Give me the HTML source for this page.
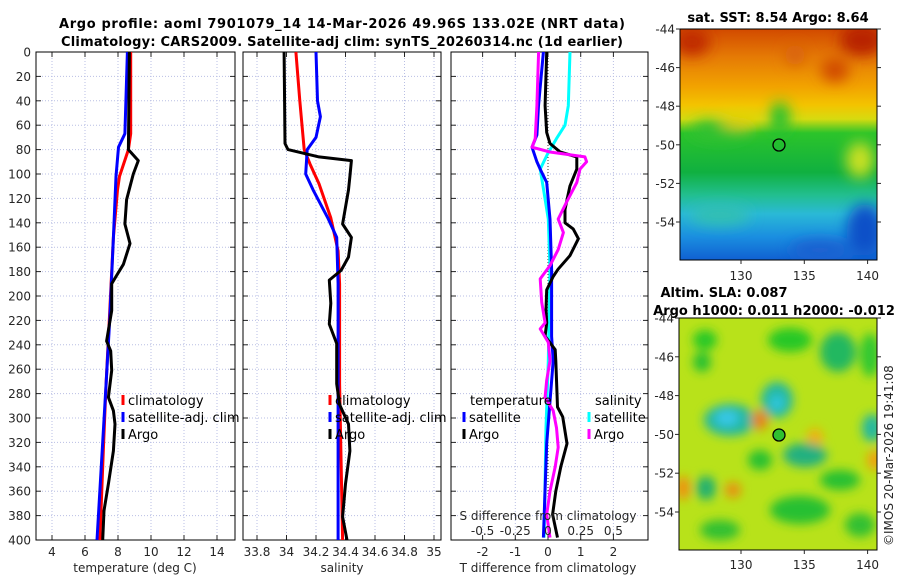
<!DOCTYPE html>
<html><head><meta charset="utf-8">
<style>
html,body{margin:0;padding:0;background:#fff;}
svg{display:block;font-family:"DejaVu Sans","Liberation Sans",sans-serif;}
.tk{font-size:12px;fill:#262626;}
.ttl{font-size:13px;font-weight:bold;fill:#000;}
.lg{font-size:13px;fill:#000;}
</style></head>
<body>
<svg id="fig" width="900" height="580" viewBox="0 0 900 580" xmlns="http://www.w3.org/2000/svg">
<defs>
<filter id="blur1" x="-50%" y="-50%" width="200%" height="200%"><feGaussianBlur stdDeviation="7"/></filter>
<filter id="blur2" x="-50%" y="-50%" width="200%" height="200%"><feGaussianBlur stdDeviation="5"/></filter>
<clipPath id="clipTop"><rect x="680" y="29" width="197" height="231"/></clipPath>
<clipPath id="clipBot"><rect x="679" y="318" width="198" height="232"/></clipPath>
<linearGradient id="sstGrad" x1="0" y1="29" x2="0" y2="260" gradientUnits="userSpaceOnUse">
<stop offset="0" stop-color="#d24a00"/>
<stop offset="0.12" stop-color="#e57a05"/>
<stop offset="0.25" stop-color="#f2a300"/>
<stop offset="0.33" stop-color="#f3c400"/>
<stop offset="0.39" stop-color="#d6db10"/>
<stop offset="0.45" stop-color="#2cc42a"/>
<stop offset="0.62" stop-color="#10b040"/>
<stop offset="0.72" stop-color="#22bf90"/>
<stop offset="0.8" stop-color="#2ab9d6"/>
<stop offset="0.9" stop-color="#1a8ee0"/>
<stop offset="1" stop-color="#1060d2"/>
</linearGradient>
</defs>

<text class="ttl" x="342" y="28" text-anchor="middle" textLength="566">Argo profile: aoml 7901079_14 14-Mar-2026 49.96S 133.02E (NRT data)</text>
<text class="ttl" x="342" y="46" text-anchor="middle" textLength="562">Climatology: CARS2009. Satellite-adj clim: synTS_20260314.nc (1d earlier)</text>

<g id="panels"></g>

<!-- SST map -->
<g>
<text class="ttl" x="778" y="22" text-anchor="middle">sat. SST: 8.54 Argo: 8.64</text>
<g clip-path="url(#clipTop)">
<rect x="680" y="29" width="197" height="231" fill="url(#sstGrad)"/>
<g filter="url(#blur1)">
<ellipse cx="692" cy="42" rx="18" ry="14" fill="#c02a00"/>
<ellipse cx="862" cy="40" rx="22" ry="16" fill="#b82000"/>
<ellipse cx="835" cy="70" rx="14" ry="12" fill="#d04a05"/>
<ellipse cx="795" cy="55" rx="10" ry="10" fill="#d86010"/>
<ellipse cx="780" cy="118" rx="10" ry="16" fill="#25c030"/>
<ellipse cx="720" cy="130" rx="30" ry="10" fill="#30c030"/>
<ellipse cx="860" cy="160" rx="14" ry="18" fill="#c8e020"/>
<ellipse cx="740" cy="120" rx="20" ry="8" fill="#e8d000"/>
<ellipse cx="720" cy="215" rx="30" ry="10" fill="#30c0b0"/>
<ellipse cx="865" cy="230" rx="18" ry="26" fill="#1050c8"/>
<ellipse cx="820" cy="250" rx="30" ry="10" fill="#1a60d0"/>
</g>
</g>
<rect x="680" y="29" width="197" height="231" fill="none" stroke="#000" stroke-width="1"/>
<circle cx="779" cy="145" r="6" fill="none" stroke="#000" stroke-width="1.3"/>
<g id="topMapAxes"></g>
</g>

<!-- SLA map -->
<g>
<text class="ttl" x="724" y="297" text-anchor="middle">Altim. SLA: 0.087</text>
<text class="ttl" x="774" y="315" text-anchor="middle">Argo h1000: 0.011 h2000: -0.012</text>
<g clip-path="url(#clipBot)">
<rect x="679" y="318" width="198" height="232" fill="#b8e21a"/>
<g filter="url(#blur2)">
<ellipse cx="705" cy="340" rx="12" ry="10" fill="#28c828"/>
<ellipse cx="790" cy="340" rx="22" ry="12" fill="#28c828"/>
<ellipse cx="838" cy="352" rx="18" ry="20" fill="#20b860"/>
<ellipse cx="870" cy="355" rx="10" ry="22" fill="#30c830"/>
<ellipse cx="702" cy="362" rx="9" ry="10" fill="#28c030"/>
<ellipse cx="777" cy="400" rx="16" ry="18" fill="#20b8a0"/>
<ellipse cx="777" cy="403" rx="7" ry="8" fill="#30c8e0"/>
<ellipse cx="730" cy="420" rx="26" ry="16" fill="#20b8a0"/>
<ellipse cx="727" cy="418" rx="12" ry="8" fill="#38c8e8"/>
<ellipse cx="760" cy="420" rx="8" ry="10" fill="#e88010"/>
<ellipse cx="815" cy="438" rx="8" ry="10" fill="#f0b010"/>
<ellipse cx="872" cy="428" rx="10" ry="14" fill="#20b8a0"/>
<ellipse cx="805" cy="455" rx="22" ry="12" fill="#20b080"/>
<ellipse cx="760" cy="460" rx="12" ry="10" fill="#28c030"/>
<ellipse cx="875" cy="460" rx="8" ry="10" fill="#f0a010"/>
<ellipse cx="683" cy="488" rx="7" ry="12" fill="#f09010"/>
<ellipse cx="733" cy="490" rx="8" ry="8" fill="#e89010"/>
<ellipse cx="706" cy="488" rx="10" ry="12" fill="#20b070"/>
<ellipse cx="840" cy="480" rx="20" ry="10" fill="#28c030"/>
<ellipse cx="800" cy="510" rx="30" ry="14" fill="#28c030"/>
<ellipse cx="720" cy="530" rx="20" ry="10" fill="#30c030"/>
<ellipse cx="860" cy="525" rx="15" ry="12" fill="#30c030"/>
</g>
</g>
<rect x="679" y="318" width="198" height="232" fill="none" stroke="#000" stroke-width="1"/>
<circle cx="779" cy="435" r="6" fill="#30c030" stroke="#000" stroke-width="1.3"/>
<g id="botMapAxes"></g>
</g>

<text class="tk" transform="translate(893,546) rotate(-90)" font-size="12.5">©IMOS 20-Mar-2026 19:41:08</text>
</svg>

<script>
// ---- data: depths (m) and values ----
const argoTDepth = [0,80,89,100,121,141,157,174,184,190,212,228,237,245,261,283,294,305,327,354,376,400];
const argoT      = [8.69,8.63,9.23,8.93,8.52,8.42,8.73,8.33,7.88,7.62,7.62,7.42,7.31,7.56,7.62,7.42,7.72,7.82,7.72,7.42,7.15,7.07];
const climTDepth = [0,67,80,102,113,152,218,272,327,400];
const climT      = [8.77,8.77,8.63,8.09,7.97,7.72,7.48,7.28,7.11,6.9];
const satTDepth  = [0,67,78,102,152,218,272,400];
const satT       = [8.57,8.42,8.03,7.88,7.72,7.5,7.28,6.73];

const argoSDepth = [0,75,80,86,89,102,113,141,152,168,179,187,206,223,239,272,289,305,327,354,381,400];
const argoS      = [33.984,33.99,34.01,34.22,34.44,34.43,34.42,34.38,34.44,34.42,34.37,34.29,34.30,34.29,34.34,34.34,34.36,34.42,34.43,34.40,34.38,34.41];
const climSDepth = [0,40,80,92,108,136,163,190,272,400];
const climS      = [34.064,34.09,34.12,34.16,34.22,34.30,34.35,34.36,34.36,34.38];
const satSDepth  = [0,40,53,70,80,100,113,136,152,190,400];
const satS       = [34.2,34.21,34.23,34.2,34.14,34.13,34.18,34.28,34.34,34.35,34.35];

const dTArgoDepth = [0,44,66,75,82,86,96,110,129,140,145,153,167,178,184,195,211,222,233,244,253,291,299,321,340,360,379,398];
const dTArgo      = [-0.04,-0.09,-0.04,0.06,0.37,0.88,0.88,0.67,0.52,0.52,0.77,0.93,0.67,0.31,0.16,-0.04,-0.06,-0.04,-0.09,0.22,0.24,0.29,0.45,0.58,0.39,0.24,0.14,0.29];
const dTSatDepth  = [0,44,68,78,90,96,107,137,178,233,253,321,398];
const dTSat       = [-0.14,-0.29,-0.34,-0.49,-0.34,-0.24,-0.04,0.06,0.11,0.11,0.16,-0.04,-0.14];
const dSArgoDepth = [0,44,71,78,82,86,90,96,107,123,137,148,162,175,186,205,222,227,238,253,269,283,294,308,324,340,360,379,398];
const dSArgo      = [-0.072,-0.085,-0.098,-0.122,0.015,0.282,0.295,0.245,0.22,0.142,0.078,0.118,0.078,0.015,-0.06,-0.048,-0.022,-0.06,0.002,0.015,-0.01,-0.022,0.04,0.065,0.078,0.055,0.015,-0.01,0.015];
const dSSatDepth  = [0,44,60,71,84,96,112,137,178,253,308,398];
const dSSat       = [0.168,0.155,0.13,0.065,-0.005,-0.06,-0.035,0.002,0.015,0.002,-0.015,-0.03];

const depthTicks = [0,20,40,60,80,100,120,140,160,180,200,220,240,260,280,300,320,340,360,380,400];
const tempTicks  = [4,6,8,10,12,14];
const salTicks   = [33.8,34,34.2,34.4,34.6,34.8,35];
const dTTicks    = [-2,-1,0,1,2];
const dSTicks    = [-0.5,-0.25,0,0.25,0.5];
const dSTickLabels = ["-0.5","-0.25","0","0.25","0.5"];
const latTicks = [-44,-46,-48,-50,-52,-54];
const lonTicks = [130,135,140];

// ---- scales ----
const Y = d => 52 + d * 1.22;
const XT = t => 52 + (t - 4) * 16.5;
const XS = s => 257 + (s - 33.8) * 147.5;
const XD = v => 548 + v * 32.7;
const XDS = v => 548 + v * 4 * 32.7;

const NS = "http://www.w3.org/2000/svg";
const root = document.getElementById('panels');
function mk(tag, attrs, parent) {
  const e = document.createElementNS(NS, tag);
  for (const k in attrs) e.setAttribute(k, attrs[k]);
  (parent || root).appendChild(e);
  return e;
}
function txt(str, x, y, anchor, cls, parent) {
  const e = mk('text', {x: x, y: y, 'text-anchor': anchor, class: cls}, parent);
  e.textContent = str;
  return e;
}

function panel(name, x0, x1, xticks, xscale, xlabels, showY) {
  const g = mk('g', {});
  
  
  // grid
  depthTicks.forEach(d => {
    const l = mk('line', {x1: x0, x2: x1, y1: Y(d), y2: Y(d), stroke: '#b9bfe4', 'stroke-width': 1, 'stroke-dasharray': '1,2'}, g);
    
    
  });
  xticks.forEach(t => {
    const l = mk('line', {x1: xscale(t), x2: xscale(t), y1: 52, y2: 540, stroke: '#b9bfe4', 'stroke-width': 1, 'stroke-dasharray': '1,2'}, g);
    
    
  });
  // ticks
  depthTicks.forEach(d => {
    mk('line', {x1: x0, x2: x0 + 5, y1: Y(d), y2: Y(d), stroke: '#262626'}, g);
    mk('line', {x1: x1, x2: x1 - 5, y1: Y(d), y2: Y(d), stroke: '#262626'}, g);
    if (showY) {
      const t = txt(String(d), x0 - 5, Y(d) + 4.5, 'end', 'tk', g);
      
      
    }
  });
  xticks.forEach((t, i) => {
    mk('line', {x1: xscale(t), x2: xscale(t), y1: 540, y2: 535, stroke: '#262626'}, g);
    mk('line', {x1: xscale(t), x2: xscale(t), y1: 52, y2: 57, stroke: '#262626'}, g);
    if (xlabels) {
      const l = txt(xlabels[i], xscale(t), 556, 'middle', 'tk', g);
      
      
    }
  });
  mk('rect', {x: x0, y: 52, width: x1 - x0, height: 488, fill: 'none', stroke: '#000', 'stroke-width': 1}, g);
  return g;
}

function series(g, name, depths, vals, xscale, color) {
  let d = '';
  depths.forEach((dp, i) => { d += (i ? 'L' : 'M') + xscale(vals[i]).toFixed(1) + ',' + Y(dp).toFixed(1); });
  const p = mk('path', {d: d, fill: 'none', stroke: color, 'stroke-width': 3, 'stroke-linejoin': 'round'}, g);
  
  
}

function legendEntry(g, name, label, x, y, color) {
  const m = mk('rect', {x: x - 1.5, y: y - 10, width: 3, height: 10, fill: color}, g);
  
  
  const t = txt(label, x + 5, y, 'start', 'lg', g);
  
  
}

// Panel 1: temperature
const g1 = panel('temperature-panel', 36, 235, tempTicks, XT, tempTicks.map(String), true);
series(g1, 'climatology-temperature-line', climTDepth, climT, XT, '#ff0000');
series(g1, 'satellite-temperature-line', satTDepth, satT, XT, '#0000ff');
series(g1, 'argo-temperature-line', argoTDepth, argoT, XT, '#000000');
let xl = txt('temperature (deg C)', 135, 572, 'middle', 'tk', g1); xl.setAttribute('font-size', '13');


legendEntry(g1, 'legend-climatology', 'climatology', 123, 405, '#ff0000');
legendEntry(g1, 'legend-satellite-adj-clim', 'satellite-adj. clim', 123, 422, '#0000ff');
legendEntry(g1, 'legend-argo', 'Argo', 123, 439, '#000000');

// Panel 2: salinity
const g2 = panel('salinity-panel', 243, 441, salTicks, XS, salTicks.map(String), false);
series(g2, 'climatology-salinity-line', climSDepth, climS, XS, '#ff0000');
series(g2, 'satellite-salinity-line', satSDepth, satS, XS, '#0000ff');
series(g2, 'argo-salinity-line', argoSDepth, argoS, XS, '#000000');
xl = txt('salinity', 342, 572, 'middle', 'tk', g2); xl.setAttribute('font-size', '13');


legendEntry(g2, 'legend-climatology-sal', 'climatology', 330, 405, '#ff0000');
legendEntry(g2, 'legend-satellite-adj-clim-sal', 'satellite-adj. clim', 330, 422, '#0000ff');
legendEntry(g2, 'legend-argo-sal', 'Argo', 330, 439, '#000000');

// Panel 3: differences
const g3 = panel('difference-panel', 451, 648, dTTicks, XD, dTTicks.map(String), false);
const z = mk('line', {x1: XD(0), x2: XD(0), y1: 52, y2: 540, stroke: '#333', 'stroke-width': 1, 'stroke-dasharray': '1,2'}, g3);


series(g3, 'salinity-satellite-diff-line', dSSatDepth, dSSat, XDS, '#00ffff');
series(g3, 'temperature-satellite-diff-line', dTSatDepth, dTSat, XD, '#0000ff');
series(g3, 'temperature-argo-diff-line', dTArgoDepth, dTArgo, XD, '#000000');
series(g3, 'salinity-argo-diff-line', dSArgoDepth, dSArgo, XDS, '#ff00ff');
xl = txt('T difference from climatology', 548, 572, 'middle', 'tk', g3); xl.setAttribute('font-size', '13');


xl = txt('S difference from climatology', 548, 520, 'middle', 'tk', g3); xl.setAttribute('font-size', '13');


dSTicks.forEach((v, i) => {
  const t = txt(dSTickLabels[i], XDS(v), 535, 'middle', 'tk', g3);
  
  
});
let h = txt('temperature', 470, 405, 'start', 'lg', g3);


h = txt('salinity', 595, 405, 'start', 'lg', g3);


legendEntry(g3, 'legend-temp-satellite', 'satellite', 464, 422, '#0000ff');
legendEntry(g3, 'legend-temp-argo', 'Argo', 464, 439, '#000000');
legendEntry(g3, 'legend-sal-satellite', 'satellite', 589, 422, '#00ffff');
legendEntry(g3, 'legend-sal-argo', 'Argo', 589, 439, '#ff00ff');

// Map axes
function mapAxes(id, top, bottom, left, right, latY, lonX, lonLabelY) {
  const g = document.getElementById(id);
  latTicks.forEach(la => {
    const y = latY(la);
    mk('line', {x1: left, x2: left - 4, y1: y, y2: y, stroke: '#262626'}, g);
    mk('line', {x1: right, x2: right + 4, y1: y, y2: y, stroke: '#262626'}, g);
    const t = txt(String(la), left - 5, y + 4.5, 'end', 'tk', g);
    
    
  });
  lonTicks.forEach(lo => {
    const x = lonX(lo);
    mk('line', {x1: x, x2: x, y1: bottom, y2: bottom + 4, stroke: '#262626'}, g);
    const t = txt(String(lo), x, lonLabelY, 'middle', 'tk', g);
    
    
  });
}
const lonX = lo => 741 + (lo - 130) * 12.66;
mapAxes('topMapAxes', 29, 260, 680, 877, la => 29 + (-44 - la) * 19.3, lonX, 280);
mapAxes('botMapAxes', 318, 550, 679, 877, la => 318 + (-44 - la) * 19.4, lonX, 569);
</script>
</body></html>
